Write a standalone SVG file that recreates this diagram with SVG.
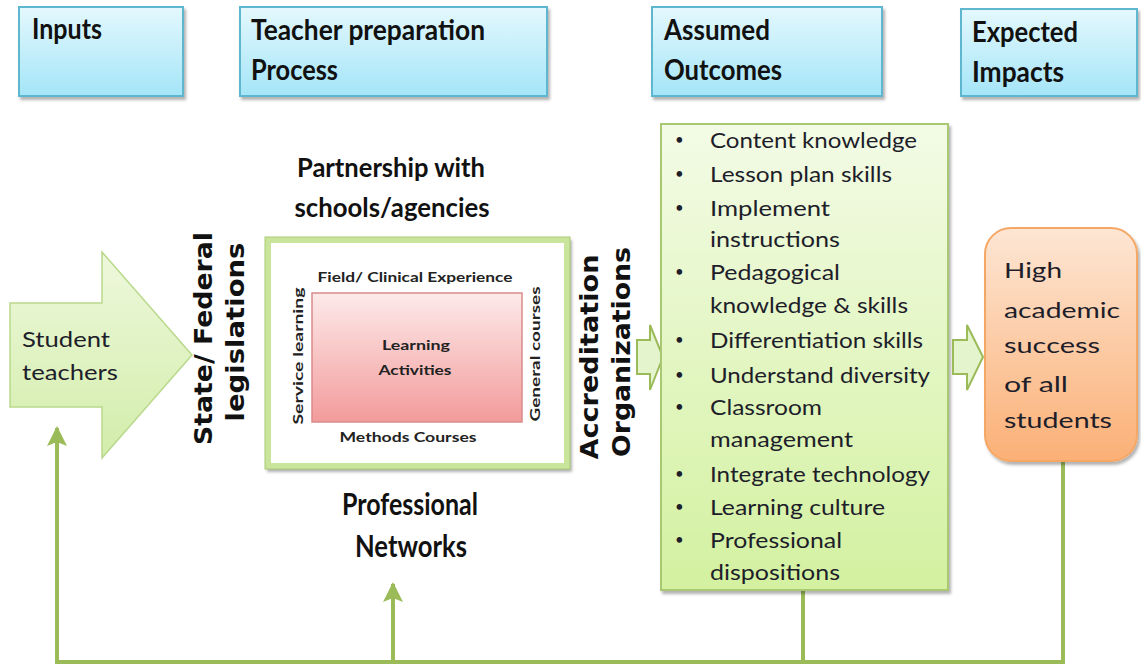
<svg xmlns="http://www.w3.org/2000/svg" width="1141" height="667" viewBox="0 0 1141 667">
<defs>
<linearGradient id="gBlue" x1="0" y1="0" x2="0" y2="1"><stop offset="0" stop-color="#e4f8fd"/><stop offset="1" stop-color="#a4e5f8"/></linearGradient>
<linearGradient id="gGreen" x1="0" y1="0" x2="0" y2="1"><stop offset="0" stop-color="#f3fbe6"/><stop offset="1" stop-color="#d3f1a0"/></linearGradient>
<linearGradient id="gArrow" x1="0" y1="0" x2="0" y2="1"><stop offset="0" stop-color="#eef8dc"/><stop offset="1" stop-color="#d2edaa"/></linearGradient>
<linearGradient id="gPink" x1="0" y1="0" x2="0" y2="1"><stop offset="0" stop-color="#fdeaea"/><stop offset="1" stop-color="#f39b9b"/></linearGradient>
<linearGradient id="gOrange" x1="0" y1="0" x2="0" y2="1"><stop offset="0" stop-color="#fde6d4"/><stop offset="1" stop-color="#fbb076"/></linearGradient>
<filter id="sh" x="-10%" y="-10%" width="130%" height="130%"><feDropShadow dx="2" dy="3" stdDeviation="1.5" flood-color="#000" flood-opacity="0.3"/></filter>
<marker id="ah" viewBox="0 0 20 20" refX="18" refY="10" markerWidth="20" markerHeight="22" markerUnits="userSpaceOnUse" orient="auto"><path d="M0,0 L20,10 L0,20 L4,10 z" fill="#9bbb59"/></marker>
<style>
.hbox{fill:url(#gBlue);stroke:#5fb6cf;stroke-width:2;filter:url(#sh)}
.ht{font-family:Lato,"Liberation Sans",sans-serif;font-weight:bold;font-size:28px;fill:#111}
.bt{font-family:Lato,"Liberation Sans",sans-serif;font-size:21px;fill:#1e1e2a}
.bul{font-family:Lato,"Liberation Sans",sans-serif;font-size:15px;fill:#1e1e2a}
.rt{font-family:"DejaVu Sans","Liberation Sans",sans-serif;font-weight:bold;font-size:25px;fill:#111}
.st{font-family:Lato,"Liberation Sans",sans-serif;font-weight:bold;font-size:14px;fill:#222}
.bg{font-family:Lato,"Liberation Sans",sans-serif;font-weight:bold;fill:#111}
.con{fill:none;stroke:#9bbb59;stroke-width:4}
</style>
</defs>
<rect width="1141" height="667" fill="#fff"/>

<g id="hdr-inputs"><rect class="hbox" x="19" y="7" width="164" height="89"/><text class="ht" x="32" y="39" textLength="70" lengthAdjust="spacingAndGlyphs">Inputs</text></g>
<g id="hdr-process"><rect class="hbox" x="240" y="7" width="307" height="89"/><text class="ht" x="251" y="40" textLength="234" lengthAdjust="spacingAndGlyphs">Teacher preparation</text><text class="ht" x="251" y="80" textLength="87" lengthAdjust="spacingAndGlyphs">Process</text></g>
<g id="hdr-outcomes"><rect class="hbox" x="652" y="7" width="230" height="89"/><text class="ht" x="664" y="40" textLength="106" lengthAdjust="spacingAndGlyphs">Assumed</text><text class="ht" x="664" y="80" textLength="118" lengthAdjust="spacingAndGlyphs">Outcomes</text></g>
<g id="hdr-impacts"><rect class="hbox" x="961" y="9" width="176" height="87"/><text class="ht" x="972" y="42" textLength="106" lengthAdjust="spacingAndGlyphs">Expected</text><text class="ht" x="972" y="82" textLength="92" lengthAdjust="spacingAndGlyphs">Impacts</text></g>

<g id="connectors">
<path class="con" d="M1063,462 V662 H57 V428" marker-end="url(#ah)"/>
<path class="con" d="M393,662 V584" marker-end="url(#ah)"/>
<path class="con" d="M803,590 V662"/>
</g>

<g id="student-teachers">
<polygon points="10,303 102,303 102,252 192,355 102,458 102,407 10,407" fill="url(#gArrow)" stroke="#b9d98c" stroke-width="1.5"/>
<text class="bt" x="22" y="347" textLength="88" lengthAdjust="spacingAndGlyphs">Student</text>
<text class="bt" x="22" y="380" textLength="96" lengthAdjust="spacingAndGlyphs">teachers</text>
</g>

<g id="legislations">
<text class="rt" transform="translate(212,338.5) rotate(-90)" text-anchor="middle" textLength="213" lengthAdjust="spacingAndGlyphs">State/ Federal</text>
<text class="rt" transform="translate(244,332) rotate(-90)" text-anchor="middle" textLength="179" lengthAdjust="spacingAndGlyphs">legislations</text>
</g>

<g id="partnership">
<text class="bg" x="391" y="177" font-size="27" text-anchor="middle" textLength="188" lengthAdjust="spacingAndGlyphs">Partnership with</text>
<text class="bg" x="392" y="217" font-size="27" text-anchor="middle" textLength="195" lengthAdjust="spacingAndGlyphs">schools/agencies</text>
</g>

<g id="process-box">
<rect x="268" y="240" width="299" height="226" fill="#fff" stroke="#c9e59c" stroke-width="6" filter="url(#sh)"/>
<rect x="265" y="237" width="305" height="232" fill="none" stroke="#a9cc74" stroke-width="1"/>
<rect x="312" y="293" width="210" height="129" fill="url(#gPink)" stroke="#d98a8a" stroke-width="1.5"/>
<text class="st" x="415" y="282" text-anchor="middle" textLength="195" lengthAdjust="spacingAndGlyphs">Field/ Clinical Experience</text>
<text class="st" x="408" y="442" text-anchor="middle" textLength="137" lengthAdjust="spacingAndGlyphs">Methods Courses</text>
<text class="st" transform="translate(303,356) rotate(-90)" text-anchor="middle" textLength="137" lengthAdjust="spacingAndGlyphs">Service learning</text>
<text class="st" transform="translate(540,354) rotate(-90)" text-anchor="middle" textLength="135" lengthAdjust="spacingAndGlyphs">General courses</text>
<text class="st" x="416" y="350" text-anchor="middle" font-size="16" textLength="68" lengthAdjust="spacingAndGlyphs">Learning</text>
<text class="st" x="415" y="375" text-anchor="middle" font-size="16" textLength="73" lengthAdjust="spacingAndGlyphs">Activities</text>
</g>

<g id="networks">
<text class="bg" x="410" y="515" font-size="30" text-anchor="middle" textLength="136" lengthAdjust="spacingAndGlyphs">Professional</text>
<text class="bg" x="411" y="557" font-size="30" text-anchor="middle" textLength="112" lengthAdjust="spacingAndGlyphs">Networks</text>
</g>

<g id="accreditation">
<text class="rt" transform="translate(598,357) rotate(-90)" text-anchor="middle" textLength="205" lengthAdjust="spacingAndGlyphs">Accreditation</text>
<text class="rt" transform="translate(630,352) rotate(-90)" text-anchor="middle" textLength="210" lengthAdjust="spacingAndGlyphs">Organizations</text>
</g>

<g id="arrow-outcomes"><polygon points="637,340 650,340 650,325 663,357 650,390 650,374 637,374" fill="#e4f4cc" stroke="#9bbb59" stroke-width="2"/></g>

<g id="outcomes">
<rect x="661" y="124" width="287" height="466" fill="url(#gGreen)" stroke="#a8c972" stroke-width="2" filter="url(#sh)"/>
<g class="bul">
<text x="675" y="145">•</text><text x="675" y="179">•</text><text x="675" y="213">•</text><text x="675" y="277">•</text><text x="675" y="345">•</text><text x="675" y="380">•</text><text x="675" y="412">•</text><text x="675" y="479">•</text><text x="675" y="512">•</text><text x="675" y="545">•</text>
</g>
<g class="bt">
<text x="710" y="148" textLength="207" lengthAdjust="spacingAndGlyphs">Content knowledge</text>
<text x="710" y="182" textLength="182" lengthAdjust="spacingAndGlyphs">Lesson plan skills</text>
<text x="710" y="216" textLength="120" lengthAdjust="spacingAndGlyphs">Implement</text>
<text x="710" y="247" textLength="130" lengthAdjust="spacingAndGlyphs">instructions</text>
<text x="710" y="280" textLength="130" lengthAdjust="spacingAndGlyphs">Pedagogical</text>
<text x="710" y="313" textLength="198" lengthAdjust="spacingAndGlyphs">knowledge &amp; skills</text>
<text x="710" y="348" textLength="213" lengthAdjust="spacingAndGlyphs">Differentiation skills</text>
<text x="710" y="383" textLength="220" lengthAdjust="spacingAndGlyphs">Understand diversity</text>
<text x="710" y="415" textLength="112" lengthAdjust="spacingAndGlyphs">Classroom</text>
<text x="710" y="447" textLength="143" lengthAdjust="spacingAndGlyphs">management</text>
<text x="710" y="482" textLength="220" lengthAdjust="spacingAndGlyphs">Integrate technology</text>
<text x="710" y="515" textLength="175" lengthAdjust="spacingAndGlyphs">Learning culture</text>
<text x="710" y="548" textLength="132" lengthAdjust="spacingAndGlyphs">Professional</text>
<text x="710" y="580" textLength="130" lengthAdjust="spacingAndGlyphs">dispositions</text>
</g>
</g>

<g id="arrow-impacts"><polygon points="953,340 967,340 967,325 983,357 967,390 967,374 953,374" fill="#e4f4cc" stroke="#9bbb59" stroke-width="2"/></g>

<g id="impact">
<rect x="985" y="228" width="152" height="233" rx="26" ry="26" fill="url(#gOrange)" stroke="#f5a866" stroke-width="2" filter="url(#sh)"/>
<g class="bt" font-size="23">
<text x="1004" y="278" textLength="58" lengthAdjust="spacingAndGlyphs">High</text>
<text x="1004" y="318" textLength="116" lengthAdjust="spacingAndGlyphs">academic</text>
<text x="1004" y="353" textLength="96" lengthAdjust="spacingAndGlyphs">success</text>
<text x="1004" y="392" textLength="64" lengthAdjust="spacingAndGlyphs">of all</text>
<text x="1004" y="428" textLength="108" lengthAdjust="spacingAndGlyphs">students</text>
</g>
</g>
</svg>
